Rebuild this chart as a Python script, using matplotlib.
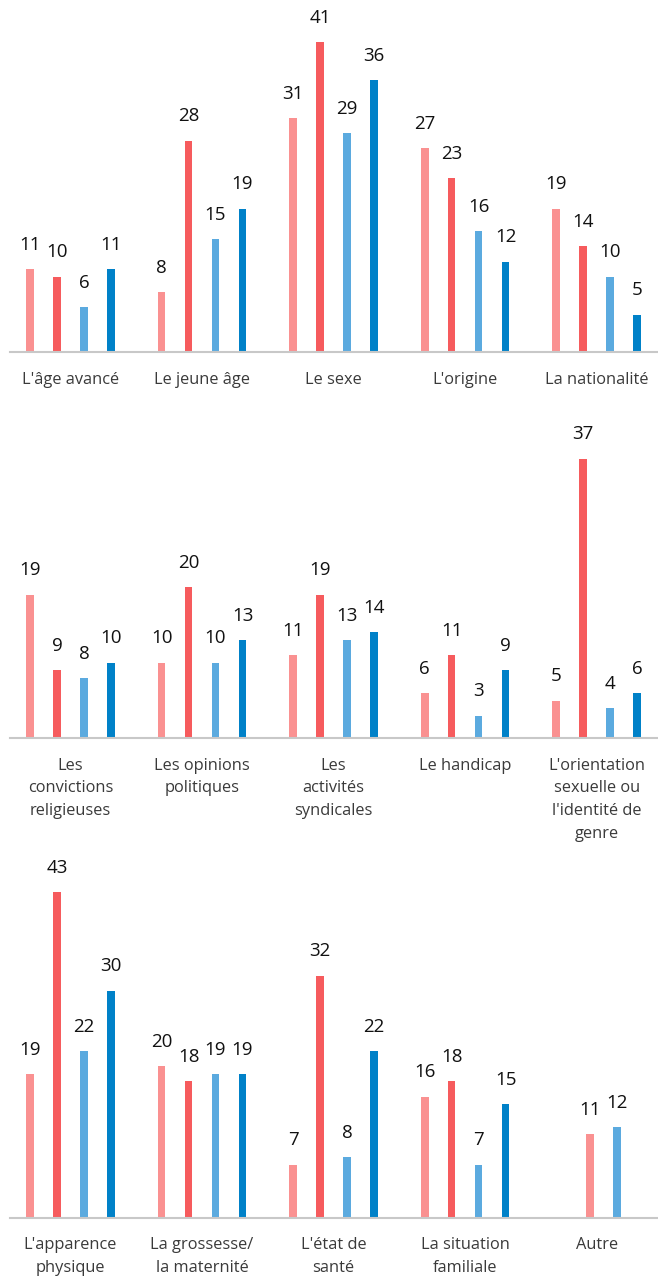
import matplotlib.pyplot as plt

plt.rcParams['font.family'] = ['Open Sans', 'DejaVu Sans']

# three rows of five categories, four series each (None = no bar)
row1_labels = ["L'âge avancé", "Le jeune âge", "Le sexe", "L'origine", "La nationalité"]
row2_labels = ["Les\nconvictions\nreligieuses", "Les opinions\npolitiques", "Les\nactivités\nsyndicales",
               "Le handicap", "L'orientation\nsexuelle ou\nl'identité de\ngenre"]
row3_labels = ["L'apparence\nphysique", "La grossesse/\nla maternité", "L'état de\nsanté",
               "La situation\nfamiliale", "Autre"]

row1_s1 = [11, 8, 31, 27, 19]
row1_s2 = [10, 28, 41, 23, 14]
row1_s3 = [6, 15, 29, 16, 10]
row1_s4 = [11, 19, 36, 12, 5]

row2_s1 = [19, 10, 11, 6, 5]
row2_s2 = [9, 20, 19, 11, 37]
row2_s3 = [8, 10, 13, 3, 4]
row2_s4 = [10, 13, 14, 9, 6]

row3_s1 = [19, 20, 7, 16, 11]
row3_s2 = [43, 18, 32, 18, None]
row3_s3 = [22, 19, 8, 7, 12]
row3_s4 = [30, 19, 22, 15, None]

colors = ['#FA9191', '#F65B5D', '#5BAADF', '#0081C8']

rows = [
    (row1_labels, [row1_s1, row1_s2, row1_s3, row1_s4], 352.3),
    (row2_labels, [row2_s1, row2_s2, row2_s3, row2_s4], 738.3),
    (row3_labels, [row3_s1, row3_s2, row3_s3, row3_s4], 1217.5),
]

W, H = 658, 1278
fig = plt.figure(figsize=(W / 100, H / 100), dpi=100)

px_per_unit = 7.56
ymax = 46
step = 0.205
bw = 0.058

for labels, series, base_px in rows:
    ax_h = ymax * px_per_unit
    ax = fig.add_axes([10 / W, (H - base_px) / H, 648 / W, ax_h / H])
    for i in range(len(labels)):
        present = [k for k in range(len(series)) if series[k][i] is not None]
        n = len(present)
        for j, k in enumerate(present):
            x = i + (j - (n - 1) / 2) * step
            if n < len(series):
                x += 0.05
            bars = ax.bar([x], [series[k][i]], width=bw, color=colors[k])
            ax.bar_label(bars, padding=11, fontsize=13.5, color='#111111')
    ax.set_xlim(-0.46, 4.466)
    ax.set_ylim(0, ymax)
    ax.set_xticks(range(len(labels)))
    ax.set_xticklabels(labels, fontsize=11.8, color='#3a3a3a', linespacing=1.55, va='top')
    ax.tick_params(axis='x', length=0, pad=14)
    ax.set_yticks([])
    for s in ['top', 'right', 'left']:
        ax.spines[s].set_visible(False)
    ax.spines['bottom'].set_color('#C8C8C8')
    ax.spines['bottom'].set_linewidth(1.5)
    ax.patch.set_alpha(0)

fig.savefig('out.png', dpi=100)
